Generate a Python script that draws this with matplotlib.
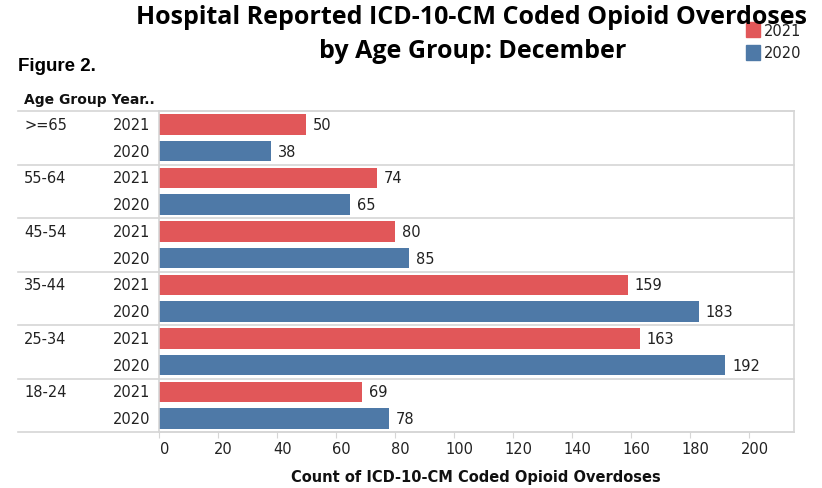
import matplotlib
matplotlib.use("Agg")
import matplotlib.pyplot as plt
import matplotlib.transforms as mtransforms
import numpy as np

age_groups = [">=65", "55-64", "45-54", "35-44", "25-34", "18-24"]
years = ["2021", "2020"]
counts_2021 = [50, 74, 80, 159, 163, 69]
counts_2020 = [38, 65, 85, 183, 192, 78]
x_ticks = [0, 20, 40, 60, 80, 100, 120, 140, 160, 180, 200]

RED = "#e15759"
BLUE = "#4e79a7"
GRID = "#d6d6d6"
TXT = "#222222"

W, H = 822, 489
fig = plt.figure(figsize=(W / 100, H / 100), dpi=100)

# plot area in pixel coords
left, right, top, bottom = 158.7, 794, 112, 433
ax = fig.add_axes([left / W, 1 - bottom / H, (right - left) / W, (bottom - top) / H])

# one row per (age group, year)
values = []
colors = []
for v21, v20 in zip(counts_2021, counts_2020):
    values += [v21, v20]
    colors += [RED, BLUE]
rows = np.arange(len(values))

ax.barh(rows, values, height=0.77, color=colors)
for r, v in zip(rows, values):
    ax.annotate(str(v), (v, r), xytext=(5, 0), textcoords="offset points",
                va="center", ha="left", fontsize=10.5, color=TXT,
                family="DejaVu Sans")

ax.set_ylim(len(values) - 0.5, -0.5)
ax.set_xlim(0, (right - left) / 2.95)
ax.set_yticks([])
ax.set_xticks(x_ticks)
ax.set_xticklabels([])
ax.tick_params(axis="x", length=4, color=GRID)

# tick labels sit a little right of their tick marks
xtrans = ax.get_xaxis_transform() + mtransforms.ScaledTranslation(
    6 / 100, -17 / 100, fig.dpi_scale_trans)
for t in x_ticks:
    ax.text(t, 0, str(t), transform=xtrans, ha="center", va="center",
            fontsize=10.5, color=TXT, family="DejaVu Sans")

for s in ax.spines.values():
    s.set_color(GRID)
    s.set_linewidth(1.2)

# group separators, extending left under the row labels
trans = ax.get_yaxis_transform()
x_lab0 = (18 - left) / (right - left)
for g in range(len(age_groups) + 1):
    y = 2 * g - 0.5
    ax.plot([x_lab0, 1], [y, y], color=GRID, lw=1.2, transform=trans,
            clip_on=False, zorder=0)

x_age = (24 - left) / (right - left)
x_year = (150 - left) / (right - left)
for g, name in enumerate(age_groups):
    ax.text(x_age, 2 * g, name, transform=trans, va="center", ha="left",
            fontsize=10.5, color=TXT, family="DejaVu Sans")
    for k, yr in enumerate(years):
        ax.text(x_year, 2 * g + k, yr, transform=trans, va="center",
                ha="right", fontsize=10.5, color=TXT, family="DejaVu Sans")

# header above the row labels
fig.text(24 / W, 1 - 100 / H, "Age Group Year..", fontsize=10,
         fontweight="bold", va="center", ha="left", color="#111111",
         family="DejaVu Sans")

fig.text(476 / W, 1 - 478 / H, "Count of ICD-10-CM Coded Opioid Overdoses",
         fontsize=10.5, fontweight="bold", ha="center", va="center",
         color="#111111", family="DejaVu Sans")

# titles
fig.text(471 / W, 1 - 17 / H, "Hospital Reported ICD-10-CM Coded Opioid Overdoses",
         fontsize=18, fontweight="bold", ha="center", va="center",
         family="Open Sans", color="#000000")
fig.text(473 / W, 1 - 52 / H, "by Age Group: December",
         fontsize=18, fontweight="bold", ha="center", va="center",
         family="Open Sans", color="#000000")
fig.text(18 / W, 1 - 67 / H, "Figure 2.", fontsize=13.5, fontweight="bold",
         ha="left", va="center", family="Liberation Sans", color="#000000")

# legend
for i, (yr, c) in enumerate(zip(years, [RED, BLUE])):
    yc = 30 + 23 * i
    fig.patches.append(plt.Rectangle((746 / W, 1 - (yc + 7.5) / H), 13.5 / W, 15 / H,
                                     transform=fig.transFigure, color=c))
    fig.text(764 / W, 1 - (yc + 1) / H, yr, fontsize=10.5, ha="left",
             va="center", family="DejaVu Sans", color=TXT)

fig.savefig("out.png", dpi=100)
